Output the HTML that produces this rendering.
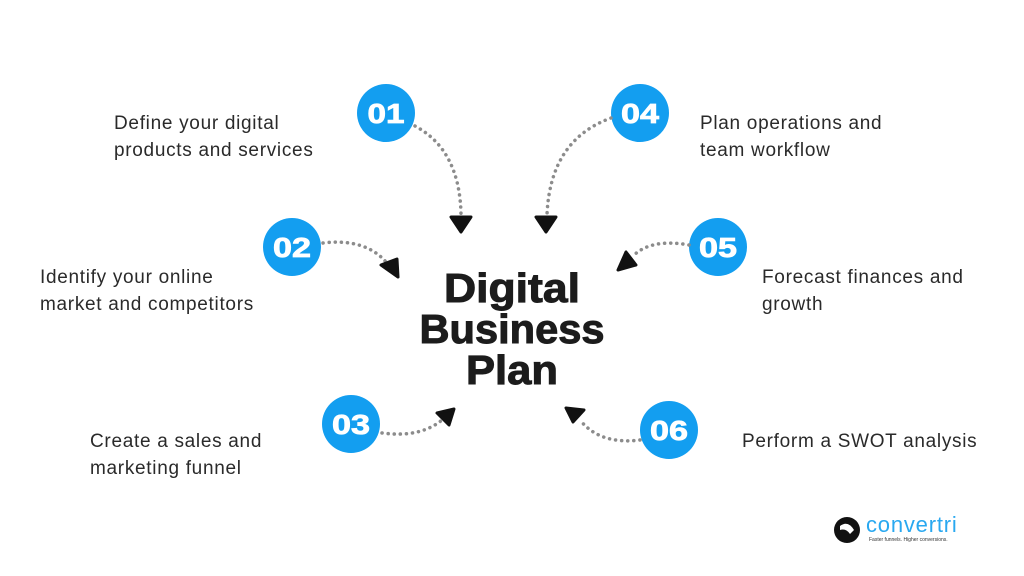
<!DOCTYPE html>
<html><head><style>
body{margin:0;width:1024px;height:576px;background:#fff;overflow:hidden}
svg{display:block}
.t{font-family:"Liberation Sans",sans-serif;font-size:19px;fill:#2a2a2a;letter-spacing:0.7px}
.n{font-family:"Liberation Sans",sans-serif;font-size:28px;font-weight:bold;fill:#fff;text-anchor:middle;stroke:#fff;stroke-width:0.8}
.h{font-family:"Liberation Sans",sans-serif;font-size:41px;font-weight:bold;fill:#1c1c1c;text-anchor:middle;stroke:#1c1c1c;stroke-width:1}
.d{fill:none;stroke:#8c8c8c;stroke-width:3.5;stroke-dasharray:0.1 6;stroke-linecap:round}
</style></head><body>
<svg width="1024" height="576" viewBox="0 0 1024 576">
<g fill="#139ef0">
<circle cx="386" cy="113" r="29"/><circle cx="640" cy="113" r="29"/>
<circle cx="292" cy="247" r="29"/><circle cx="718" cy="247" r="29"/>
<circle cx="351" cy="424" r="29"/><circle cx="669" cy="430" r="29"/>
</g>
<text class="n" x="386" y="123" textLength="37" lengthAdjust="spacingAndGlyphs">01</text><text class="n" x="640" y="123" textLength="38" lengthAdjust="spacingAndGlyphs">04</text>
<text class="n" x="292" y="257" textLength="38" lengthAdjust="spacingAndGlyphs">02</text><text class="n" x="718" y="257" textLength="38" lengthAdjust="spacingAndGlyphs">05</text>
<text class="n" x="351" y="434" textLength="38" lengthAdjust="spacingAndGlyphs">03</text><text class="n" x="669" y="440" textLength="38" lengthAdjust="spacingAndGlyphs">06</text>
<path class="d" d="M415,126 Q460,150 461,215"/>
<path class="d" d="M611,118 Q550,140 547,215"/>
<path class="d" d="M323,243 Q365,238 386,262"/>
<path class="d" d="M689,245 Q650,238 632,257"/>
<path class="d" d="M382,433 Q420,438 442,420"/>
<path class="d" d="M640,440 Q600,445 580,420"/>
<g fill="#111" stroke="#111" stroke-width="3" stroke-linejoin="round">
<path d="M451,217 L471,217 L461,232 Z"/>
<path d="M536,217 L556,217 L546,232 Z"/>
<path d="M381,265 L397,259 L398,277 Z"/>
<path d="M618,270 L636,265 L626,252 Z"/>
<path d="M437,413 L454,409 L449,425 Z"/>
<path d="M566,408 L584,410 L573,422 Z"/>
</g>
<text class="h" x="512" y="302" textLength="136" lengthAdjust="spacingAndGlyphs">Digital</text>
<text class="h" x="512" y="343" textLength="185" lengthAdjust="spacingAndGlyphs">Business</text>
<text class="h" x="512" y="384" textLength="92" lengthAdjust="spacingAndGlyphs">Plan</text>
<text class="t" x="114" y="129">Define your digital</text>
<text class="t" x="114" y="156">products and services</text>
<text class="t" x="40" y="283">Identify your online</text>
<text class="t" x="40" y="310">market and competitors</text>
<text class="t" x="90" y="447">Create a sales and</text>
<text class="t" x="90" y="474">marketing funnel</text>
<text class="t" x="700" y="129">Plan operations and</text>
<text class="t" x="700" y="156">team workflow</text>
<text class="t" x="762" y="283">Forecast finances and</text>
<text class="t" x="762" y="310">growth</text>
<text class="t" x="742" y="447">Perform a SWOT analysis</text>
<circle cx="847" cy="530" r="13" fill="#111"/>
<path d="M840,526 Q848,520 854,530 L850,534 Q846,528 840,530 Z" fill="#fff"/>
<text x="866" y="532" style="font-family:'Liberation Sans',sans-serif;font-size:22px;fill:#29a8f0;letter-spacing:0.8px">convertri</text>
<text x="869" y="541" style="font-family:'Liberation Sans',sans-serif;font-size:5px;fill:#333">Faster funnels. Higher conversions.</text>
</svg>
</body></html>
